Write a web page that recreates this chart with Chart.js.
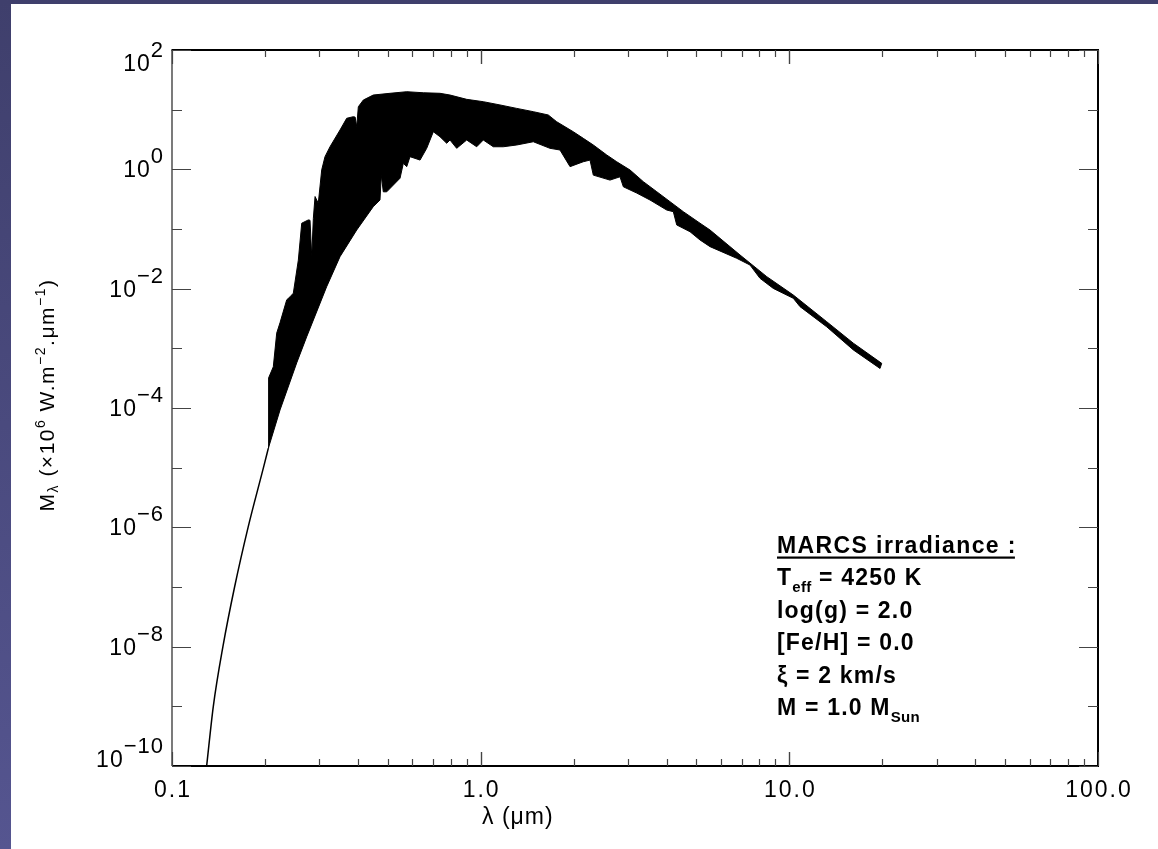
<!DOCTYPE html>
<html>
<head>
<meta charset="utf-8">
<title>MARCS irradiance</title>
<script src="https://cdn.jsdelivr.net/npm/chart.js@4.4.0/dist/chart.umd.min.js"></script>
<style>
  html, body { margin: 0; padding: 0; background: #4f4f88; overflow: hidden; }
  canvas { display: block; }
</style>
</head>
<body>
<canvas id="sed" width="1158" height="849"></canvas>
<script>
// Wien side: one thin line, no lines resolved below ~0.205 um
const wienLambda = [0.1295, 0.1361, 0.1462, 0.1595, 0.1764, 0.1982, 0.2051];
const wienFlux   = [1.0e-10, 1.0e-9, 1.0e-8, 1.0e-7, 1.0e-6, 1.04e-5, 2.1e-5];

// top of the line-blanketed band (continuum side)
const upperLambda = [0.2051, 0.2056, 0.2129, 0.2184, 0.2239, 0.2353, 0.2412, 0.2472, 0.2566, 0.2632, 0.2765,
  0.2800, 0.2836, 0.2870, 0.2907, 0.2978, 0.3055, 0.3131, 0.3250, 0.3502, 0.3681,
  0.3867, 0.3920, 0.3967, 0.4015, 0.4167, 0.4488, 0.5085, 0.5761, 0.652, 0.7383,
  0.7955, 0.901, 1.0198, 1.155, 1.309, 1.481, 1.656, 1.763, 1.995, 2.150,
  2.317, 2.561, 2.759, 3.047, 3.365, 3.719, 4.106, 4.535, 5.136, 5.534,
  6.922, 8.45, 10.30, 13.21, 16.12, 19.92];
const upperFlux = [2.1e-5, 3.2e-4, 4.9e-4, 1.8e-3, 2.7e-3, 6.5e-3, 7.3e-3, 8.4e-3, 0.030, 0.125, 0.142,
  0.14, 0.034, 0.15, 0.35, 0.27, 0.98, 1.63, 2.39, 4.56, 7.17,
  7.62, 7.5, 5.19, 11.2, 14.5, 17.6, 18.8, 20.0, 19.2, 18.8,
  17.6, 14.9, 13.6, 12.0, 10.5, 9.25, 8.14, 6.28, 4.27, 3.31,
  2.56, 1.74, 1.34, 0.975, 0.621, 0.422, 0.287, 0.195, 0.125, 0.0962,
  0.0367, 0.0159, 7.83e-3, 2.80e-3, 1.22e-3, 5.6e-4];

// bottom of the band (deepest absorption)
const lowerLambda = [0.2051, 0.2239, 0.2535, 0.2732, 0.3170, 0.3502, 0.3967, 0.4488, 0.4719, 0.4764,
  0.4837, 0.4962, 0.548, 0.5616, 0.5761, 0.5902, 0.6362, 0.6686, 0.7025, 0.7383,
  0.7762, 0.7955, 0.8362, 0.901, 0.9708, 1.0198, 1.099, 1.184, 1.309, 1.481,
  1.677, 1.807, 1.948, 2.150, 2.261, 2.317, 2.624, 2.828, 2.899, 3.204,
  3.537, 4.006, 4.209, 4.317, 4.767, 5.136, 5.534, 6.753, 7.457, 8.035,
  8.872, 10.30, 10.83, 13.21, 16.12, 19.67];
const lowerFlux = [2.1e-5, 9.3e-5, 5.7e-4, 1.57e-3, 0.0108, 0.0344, 0.0962, 0.237, 0.306, 0.80,
  0.42, 0.42, 0.71, 1.26, 1.11, 1.63, 1.43, 2.25, 4.27, 3.52,
  2.73, 3.10, 2.25, 3.10, 2.39, 3.10, 2.39, 2.39, 2.56, 2.90,
  2.25, 2.11, 1.11, 1.34, 1.43, 0.80, 0.66, 0.75, 0.51, 0.40,
  0.306, 0.208, 0.195, 0.117, 0.090, 0.0655, 0.0506, 0.0323, 0.0249, 0.0149,
  0.0101, 6.9e-3, 5.0e-3, 2.3e-3, 9.4e-4, 4.6e-4];

// axes
const xTickValues = [0.1, 1, 10, 100];
const xTickLabels = ["0.1", "1.0", "10.0", "100.0"];
const yLabelExponents = [2, 0, -2, -4, -6, -8, -10];

// model parameters box
const boxTitle = "MARCS irradiance :";
const boxLines = [
  [["T", 0], ["eff", 1], [" = 4250 K", 0]],
  [["log(g) = 2.0", 0]],
  [["[Fe/H] = 0.0", 0]],
  [["ξ = 2 km/s", 0]],
  [["M = 1.0 M", 0], ["Sun", 1]]
];

const FONT = "'Liberation Sans', Arial, Helvetica, sans-serif";

function pts(lams, fluxes) {
  return lams.map((l, i) => ({ x: l, y: fluxes[i] }));
}

// closed outline of the band: along the top, back along the bottom
const band = pts(upperLambda, upperFlux).concat(pts(lowerLambda, lowerFlux).reverse());

// draw a list of [text, font, dy, spacing] runs from x, returns end x
function drawRuns(ctx, runs, x, y) {
  runs.forEach(r => {
    ctx.font = r[1];
    if (r[3] !== undefined) ctx.letterSpacing = r[3];
    ctx.fillText(r[0], x, y + (r[2] || 0));
    x += ctx.measureText(r[0]).width;
  });
  return x;
}
function runsWidth(ctx, runs) {
  let w = 0;
  runs.forEach(r => {
    ctx.font = r[1];
    if (r[3] !== undefined) ctx.letterSpacing = r[3];
    w += ctx.measureText(r[0]).width;
  });
  return w;
}

const background = {
  id: "background",
  beforeDraw(chart) {
    const ctx = chart.ctx;
    const g = ctx.createLinearGradient(0, 0, 0, chart.height);
    g.addColorStop(0, "#3f3f6c");
    g.addColorStop(1, "#555590");
    ctx.save();
    ctx.fillStyle = g;
    ctx.fillRect(0, 0, chart.width, chart.height);
    ctx.fillStyle = "#ffffff";
    ctx.fillRect(11, 4, chart.width - 11, chart.height - 4);
    ctx.restore();
  }
};

const frame = {
  id: "frame",
  afterDraw(chart) {
    const { ctx, chartArea: a, scales } = chart;
    const xs = scales.x, ys = scales.y;
    ctx.save();

    // box
    ctx.strokeStyle = "#000";
    ctx.lineWidth = 2;
    ctx.beginPath();
    ctx.moveTo(a.left, a.bottom);
    ctx.lineTo(a.right, a.bottom);
    ctx.lineTo(a.right, a.top);
    ctx.lineTo(a.left - 0.5, a.top);
    ctx.stroke();
    ctx.lineWidth = 1.3;
    ctx.strokeStyle = "#333";
    ctx.beginPath();
    ctx.moveTo(a.left, a.top);
    ctx.lineTo(a.left, a.bottom);
    ctx.stroke();

    // y ticks, pointing inwards on both sides
    ctx.lineWidth = 1.2;
    ctx.strokeStyle = "#444";
    for (let e = -10; e <= 2; e++) {
      const py = Math.round(ys.getPixelForValue(Math.pow(10, e))) + 0.5;
      const len = e % 2 === 0 ? 19 : 10;
      ctx.beginPath();
      ctx.moveTo(a.left, py); ctx.lineTo(a.left + len, py);
      ctx.moveTo(a.right, py); ctx.lineTo(a.right - len, py);
      ctx.stroke();
    }
    // x ticks
    [0.1, 1, 10].forEach(d => {
      for (let k = 1; k <= 10; k++) {
        const px = Math.round(xs.getPixelForValue(k * d)) + 0.5;
        const len = (k === 1 || k === 10) ? 14 : 7;
        ctx.beginPath();
        ctx.moveTo(px, a.bottom); ctx.lineTo(px, a.bottom - len);
        ctx.moveTo(px, a.top); ctx.lineTo(px, a.top + len);
        ctx.stroke();
      }
    });

    ctx.fillStyle = "#000";
    ctx.textBaseline = "alphabetic";

    // x tick labels
    ctx.letterSpacing = "2px";
    ctx.font = "23px " + FONT;
    ctx.textAlign = "center";
    xTickValues.forEach((v, i) => {
      ctx.fillText(xTickLabels[i], xs.getPixelForValue(v) + 1, 797);
    });

    // y tick labels 10^n
    ctx.textAlign = "left";
    ctx.letterSpacing = "1px";
    yLabelExponents.forEach(e => {
      const py = ys.getPixelForValue(Math.pow(10, e));
      const base = Math.min(Math.max(py + 8, a.top + 21), a.bottom + 1);
      const sup = e < 0 ? "\u2212" + (-e) : String(e);
      const runs = [["10", "23px " + FONT, 0], [sup, "22px " + FONT, -14]];
      const w = runsWidth(ctx, runs);
      drawRuns(ctx, runs, 164 - w, base);
    });

    // axis titles
    ctx.letterSpacing = "1px";
    drawRuns(ctx, [["λ (μm)", "23px " + FONT, 0]], 482, 824);

    const big = "21px " + FONT, small = "14px " + FONT;
    const yt = [["M", big, 0, "1.5px"], ["λ", small, 4], [" (×10", big, 0], ["6", small, -9],
      [" W.m", big, 0], ["\u22122", small, -9], [".μm", big, 0], ["\u22121", small, -9], [")", big, 0]];
    const yw = runsWidth(ctx, yt);
    ctx.save();
    ctx.translate(54, 395 + yw / 2);
    ctx.rotate(-Math.PI / 2);
    drawRuns(ctx, yt, 0, 0);
    ctx.restore();

    // parameter box
    ctx.letterSpacing = "1.4px";
    const bold = "bold 23px " + FONT;
    ctx.font = bold;
    ctx.fillText(boxTitle, 777, 553);
    const tw = ctx.measureText(boxTitle).width;
    ctx.fillRect(777, 556.5, tw - 2, 2.2);
    boxLines.forEach((line, i) => {
      const runs = line.map(r => r[1] ? [r[0], "bold 15px " + FONT, 7, "0.3px"] : [r[0], bold, 0, "1.2px"]);
      drawRuns(ctx, runs, 777, 585 + i * 32.5);
    });

    ctx.restore();
  }
};

new Chart(document.getElementById("sed"), {
  type: "line",
  data: {
    datasets: [{
      label: "MARCS irradiance",
      data: band,
      borderColor: "#000",
      backgroundColor: "#000",
      borderWidth: 1,
      fill: "shape",
      pointRadius: 0,
      tension: 0
    }, {
      label: "Wien tail",
      data: pts(wienLambda, wienFlux),
      borderColor: "#000",
      borderWidth: 1.5,
      fill: false,
      pointRadius: 0,
      cubicInterpolationMode: "monotone"
    }]
  },
  options: {
    responsive: false,
    animation: false,
    devicePixelRatio: 1,
    layout: { padding: { left: 172, top: 50, right: 60, bottom: 83 } },
    plugins: { legend: { display: false }, tooltip: { enabled: false } },
    scales: {
      x: { type: "logarithmic", min: 0.1, max: 100, display: false },
      y: { type: "logarithmic", min: 1e-10, max: 100, display: false }
    }
  },
  plugins: [background, frame]
});
</script>
</body>
</html>
